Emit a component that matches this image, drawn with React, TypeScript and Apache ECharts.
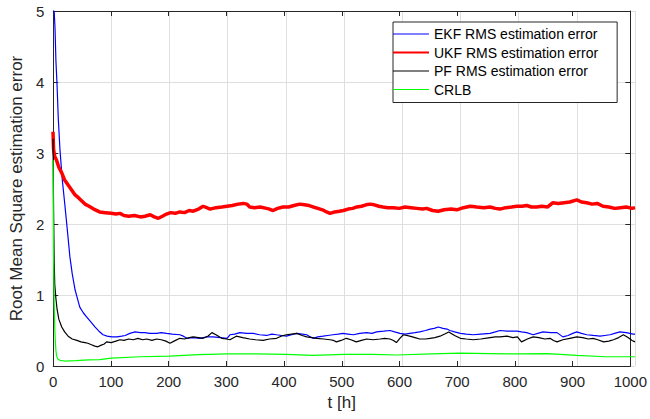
import React, { useEffect, useRef } from "react";
import * as echarts from "echarts";

const seriesNames = [
  "EKF RMS estimation error",
  "UKF RMS estimation error",
  "PF RMS estimation error",
  "CRLB",
];

const xTicks = { min: 0, max: 1000, interval: 100 };
const yTicks = { min: 0, max: 5, interval: 1 };

const ekfData = [
  [0, 5.0], [2, 5.0], [3.5, 4.75], [5, 4.3], [7, 3.95], [9, 3.5], [12, 3.04], [16, 2.62],
  [20, 2.3], [23.5, 2.01], [29, 1.54], [33, 1.3], [38, 1.07], [42, 0.95], [46, 0.83],
  [52, 0.75], [58, 0.69], [65, 0.62], [72, 0.55], [79, 0.49], [86, 0.44], [93, 0.42],
  [101, 0.41], [110, 0.41], [118, 0.42], [124, 0.43], [132, 0.46], [141, 0.48], [150, 0.47],
  [158, 0.47], [166, 0.46], [178, 0.46], [186, 0.47], [195, 0.46], [205, 0.45], [218, 0.44],
  [224, 0.42], [230, 0.39], [240, 0.4], [253, 0.39], [264, 0.41], [275, 0.41], [288, 0.4],
  [299, 0.39], [304, 0.44], [312, 0.45], [321, 0.47], [333, 0.46], [344, 0.46], [355, 0.44],
  [367, 0.43], [376, 0.45], [384, 0.44], [393, 0.43], [401, 0.42], [410, 0.44], [419, 0.46],
  [428, 0.45], [436, 0.44], [442, 0.41], [447, 0.39], [455, 0.41], [464, 0.42], [472, 0.43],
  [481, 0.44], [490, 0.45], [498, 0.46], [507, 0.45], [516, 0.44], [527, 0.46], [539, 0.47],
  [548, 0.46], [556, 0.48], [568, 0.49], [579, 0.5], [587, 0.48], [596, 0.46], [605, 0.45],
  [613, 0.46], [622, 0.47], [630, 0.48], [640, 0.5], [648, 0.52], [655, 0.53], [662, 0.55],
  [670, 0.53], [677, 0.52], [682, 0.5], [690, 0.48], [700, 0.46], [710, 0.45], [722, 0.44],
  [735, 0.45], [751, 0.46], [760, 0.48], [768, 0.5], [780, 0.49], [797, 0.49], [805, 0.48],
  [814, 0.47], [825, 0.44], [833, 0.46], [842, 0.48], [855, 0.47], [866, 0.47], [876, 0.41],
  [885, 0.43], [893, 0.46], [900, 0.48], [908, 0.46], [917, 0.44], [928, 0.43], [940, 0.42],
  [948, 0.43], [957, 0.44], [965, 0.46], [974, 0.48], [985, 0.47], [997, 0.45], [1000, 0.45],
];

const ukfData = [
  [0, 3.3], [1, 3.05], [3, 2.95], [6, 2.9], [10, 2.8], [15, 2.72], [20, 2.62], [26, 2.55],
  [32, 2.48], [38, 2.41], [45, 2.36], [55, 2.28], [62, 2.25], [70, 2.21], [80, 2.17],
  [90, 2.16], [100, 2.15], [108, 2.14], [115, 2.15], [122, 2.12], [130, 2.11], [140, 2.12],
  [150, 2.1], [158, 2.11], [167, 2.13], [174, 2.1], [181, 2.08], [188, 2.11], [195, 2.14],
  [202, 2.16], [210, 2.15], [218, 2.17], [226, 2.16], [234, 2.19], [241, 2.18], [250, 2.21],
  [258, 2.25], [264, 2.23], [270, 2.21], [280, 2.23], [290, 2.24], [299, 2.25], [308, 2.26],
  [318, 2.28], [327, 2.29], [333, 2.28], [338, 2.24], [346, 2.23], [356, 2.24], [367, 2.22],
  [372, 2.21], [378, 2.19], [386, 2.22], [395, 2.24], [405, 2.24], [414, 2.26], [424, 2.28],
  [432, 2.27], [440, 2.26], [447, 2.24], [455, 2.22], [463, 2.2], [470, 2.17], [476, 2.15],
  [484, 2.17], [492, 2.18], [499, 2.19], [507, 2.21], [515, 2.22], [522, 2.24], [530, 2.25],
  [538, 2.27], [545, 2.28], [552, 2.27], [560, 2.25], [567, 2.24], [575, 2.23], [585, 2.23],
  [595, 2.22], [605, 2.24], [615, 2.23], [625, 2.22], [635, 2.21], [642, 2.22], [652, 2.19],
  [662, 2.18], [672, 2.2], [684, 2.21], [694, 2.2], [705, 2.23], [717, 2.25], [728, 2.24],
  [740, 2.23], [751, 2.24], [760, 2.22], [768, 2.21], [778, 2.23], [788, 2.24], [797, 2.25],
  [806, 2.25], [814, 2.26], [822, 2.24], [831, 2.24], [840, 2.25], [850, 2.24], [859, 2.3],
  [868, 2.29], [878, 2.3], [888, 2.31], [900, 2.34], [908, 2.31], [917, 2.3], [926, 2.28],
  [935, 2.29], [945, 2.25], [955, 2.24], [965, 2.22], [975, 2.23], [985, 2.24], [995, 2.22],
  [1000, 2.23],
];

const pfData = [
  [0, 3.2], [1, 2.2], [2, 1.5], [3, 1.15], [5, 0.95], [7, 0.8], [10, 0.66], [15, 0.55],
  [20, 0.48], [26, 0.42], [33, 0.38], [41, 0.36], [48, 0.34], [55, 0.33], [60, 0.32],
  [66, 0.3], [72, 0.28], [77, 0.27], [82, 0.29], [88, 0.31], [92, 0.34], [100, 0.33],
  [108, 0.35], [115, 0.37], [122, 0.36], [130, 0.38], [138, 0.37], [146, 0.39], [154, 0.37],
  [161, 0.38], [170, 0.36], [178, 0.38], [186, 0.37], [194, 0.35], [201, 0.32], [208, 0.35],
  [218, 0.39], [226, 0.38], [234, 0.4], [241, 0.41], [250, 0.4], [258, 0.39], [266, 0.42],
  [273, 0.47], [280, 0.44], [290, 0.39], [298, 0.38], [304, 0.37], [315, 0.42], [326, 0.4],
  [338, 0.38], [348, 0.37], [361, 0.36], [372, 0.38], [384, 0.39], [392, 0.42], [401, 0.44],
  [410, 0.45], [419, 0.46], [428, 0.43], [436, 0.41], [445, 0.4], [453, 0.39], [465, 0.38],
  [476, 0.37], [482, 0.36], [487, 0.34], [495, 0.36], [504, 0.39], [512, 0.37], [521, 0.34],
  [530, 0.36], [539, 0.38], [550, 0.37], [562, 0.38], [570, 0.39], [579, 0.38], [585, 0.36],
  [590, 0.33], [596, 0.39], [602, 0.44], [613, 0.42], [622, 0.4], [630, 0.38], [640, 0.38],
  [648, 0.39], [656, 0.4], [665, 0.42], [673, 0.45], [680, 0.48], [690, 0.43], [700, 0.39],
  [710, 0.38], [722, 0.37], [735, 0.38], [751, 0.4], [760, 0.41], [768, 0.41], [780, 0.42],
  [790, 0.4], [798, 0.41], [805, 0.34], [815, 0.38], [825, 0.41], [835, 0.4], [845, 0.38],
  [854, 0.39], [860, 0.36], [866, 0.34], [876, 0.37], [888, 0.39], [900, 0.41], [910, 0.4],
  [920, 0.38], [928, 0.39], [936, 0.37], [946, 0.34], [955, 0.35], [963, 0.37], [972, 0.4],
  [980, 0.44], [988, 0.4], [995, 0.36], [1000, 0.34],
];

const crlbData = [
  [0, 2.9], [0.5, 2.2], [1, 1.5], [2, 0.9], [3, 0.55], [4, 0.35], [5, 0.22], [6, 0.15],
  [8, 0.1], [12, 0.08], [20, 0.07], [40, 0.075], [60, 0.085], [80, 0.09], [100, 0.11],
  [150, 0.13], [200, 0.14], [250, 0.16], [300, 0.17], [350, 0.17], [400, 0.165],
  [447, 0.15], [500, 0.165], [550, 0.165], [590, 0.155], [650, 0.17], [700, 0.18],
  [750, 0.175], [800, 0.17], [850, 0.175], [900, 0.15], [950, 0.13], [1000, 0.13],
];

const seriesData = [ekfData, ukfData, pfData, crlbData];
const seriesColors = ["#0000ff", "#ff0000", "#000000", "#00ff00"];
const seriesWidths = [1.2, 3.5, 1.2, 1.2];
const legendWidths = [1, 2, 1, 1];
const legendIcons = [
  "path://M0,0H36V1H0Z",
  "path://M0,0H36V2H0Z",
  "path://M0,0H36V1H0Z",
  "path://M0,0H36V1H0Z",
];

const FONT = "'Liberation Sans', Arial, Helvetica, sans-serif";
const AX = "#262626";
const GRIDC = "#dfdfdf";

export default function App() {
  const ref = useRef<HTMLDivElement>(null);
  useEffect(() => {
    if (!ref.current) return;
    const chart = echarts.init(ref.current, undefined, { renderer: "svg" });
    const rect = { left: 53, right: 15, top: 11, bottom: 53, containLabel: false };
    const lineAxis = {
      z: 1,
      axisLine: { show: true, onZero: false, lineStyle: { color: AX, width: 1 } },
      axisTick: { show: true, inside: true, length: 5, lineStyle: { color: AX, width: 1 } },
      splitLine: { show: false },
    };
    const gridAxis = {
      z: 0,
      axisLine: { show: false },
      axisTick: { show: false },
      axisLabel: { show: false },
      splitLine: { show: true, lineStyle: { color: GRIDC, width: 1 } },
    };
    const xr = { type: "value", min: xTicks.min, max: xTicks.max, interval: xTicks.interval };
    const yr = { type: "value", min: yTicks.min, max: yTicks.max, interval: yTicks.interval };
    chart.setOption({
      animation: false,
      backgroundColor: "#ffffff",
      textStyle: { fontFamily: FONT },
      grid: [{ ...rect }, { ...rect }],
      legend: {
        orient: "vertical",
        left: 393,
        top: 22,
        z: 10,
        data: seriesNames.map((name, i) => ({
          name,
          icon: legendIcons[i],
          itemStyle: { color: seriesColors[i], borderWidth: 0 },
          lineStyle: { color: seriesColors[i], width: legendWidths[i] },
        })),
        itemWidth: 36,
        itemHeight: 14,
        itemGap: 4.5,
        symbolKeepAspect: true,
        padding: [5, 19, 6, 0],
        backgroundColor: "#ffffff",
        borderColor: AX,
        borderWidth: 1,
        borderRadius: 0,
        textStyle: { fontFamily: FONT, fontSize: 14, color: "#000000" },
      },
      xAxis: [
        { ...xr, ...gridAxis, gridIndex: 0, position: "bottom" },
        {
          ...xr,
          ...lineAxis,
          gridIndex: 1,
          position: "bottom",
          name: "t [h]",
          nameLocation: "middle",
          nameGap: 27,
          nameTextStyle: { fontFamily: FONT, fontSize: 17, color: AX },
          axisLabel: {
            fontFamily: FONT,
            fontSize: 15,
            color: AX,
            margin: 8,
            formatter: (v: number) => String(v),
          },
        },
        { ...xr, ...lineAxis, gridIndex: 1, position: "top", axisLabel: { show: false } },
      ],
      yAxis: [
        { ...yr, ...gridAxis, gridIndex: 0, position: "left" },
        {
          ...yr,
          ...lineAxis,
          gridIndex: 1,
          position: "left",
          name: "Root Mean Square estimation error",
          nameLocation: "middle",
          nameGap: 21,
          nameTextStyle: { fontFamily: FONT, fontSize: 17, color: AX },
          axisLabel: { fontFamily: FONT, fontSize: 15, color: AX, margin: 9 },
        },
        { ...yr, ...lineAxis, gridIndex: 1, position: "right", axisLabel: { show: false } },
      ],
      series: seriesNames.map((name, i) => ({
        name,
        type: "line",
        xAxisIndex: 0,
        yAxisIndex: 0,
        data: seriesData[i],
        symbol: "none",
        showSymbol: false,
        clip: true,
        color: seriesColors[i],
        lineStyle: { color: seriesColors[i], width: seriesWidths[i] },
        z: [2, 3, 4, 5][i],
      })),
    });
    return () => chart.dispose();
  }, []);
  return (
    <div
      ref={ref}
      style={{ position: "fixed", left: 0, top: 0, width: 650, height: 419 }}
    />
  );
}
